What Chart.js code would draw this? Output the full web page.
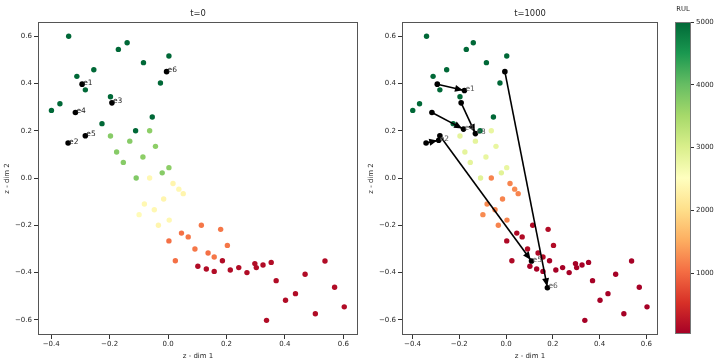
<!DOCTYPE html>
<html>
<head>
<meta charset="utf-8">
<script src="https://cdn.jsdelivr.net/npm/chart.js@4/dist/chart.umd.min.js"></script>
<style>
html, body { margin: 0; padding: 0; background: #fff; }
#wrap { position: relative; width: 720px; height: 364px; overflow: hidden; }
#wrap canvas { position: absolute; top: 0; }
</style>
</head>
<body>
<div id="wrap">
  <canvas id="leftChart" width="362" height="364" style="left:0"></canvas>
  <canvas id="rightChart" width="300" height="364" style="left:362px"></canvas>
  <canvas id="cbar" width="58" height="364" style="left:662px"></canvas>
</div>
<script>
// latent points (same positions in both panels)
const ptX = [-0.340, -0.170, -0.140, -0.084, 0.003, -0.254, -0.312, -0.283, -0.026, -0.399,
             -0.370, -0.197, -0.054, -0.226, -0.111,
             -0.197, -0.063, -0.131, -0.043, -0.176, -0.086, -0.153, 0.003, -0.020, -0.109,
             -0.063, 0.017, 0.037, 0.052, -0.081, -0.015, -0.099, -0.047, -0.033, 0.004,
             0.114, 0.180, 0.046, 0.069, 0.003, 0.203, 0.092, 0.137, 0.158, 0.025,
             0.186, 0.102, 0.131, 0.158, 0.213, 0.242, 0.270, 0.297, 0.302, 0.325,
             0.353, 0.370, 0.402, 0.436, 0.469, 0.504, 0.537, 0.570, 0.603, 0.337];
const ptY = [0.600, 0.544, 0.572, 0.488, 0.516, 0.458, 0.430, 0.373, 0.402, 0.286,
             0.314, 0.344, 0.258, 0.230, 0.200,
             0.178, 0.200, 0.156, 0.134, 0.110, 0.089, 0.066, 0.044, 0.022, 0.000,
             0.000, -0.023, -0.047, -0.066, -0.110, -0.089, -0.155, -0.134, -0.200, -0.178,
             -0.200, -0.217, -0.233, -0.249, -0.266, -0.285, -0.300, -0.317, -0.334, -0.350,
             -0.350, -0.373, -0.385, -0.395, -0.389, -0.379, -0.400, -0.362, -0.379, -0.368,
             -0.357, -0.434, -0.517, -0.489, -0.407, -0.574, -0.351, -0.462, -0.545, -0.602];
// RUL colour of each point at t=0 and at t=1000
const rulT0 = [5000, 5000, 5000, 5000, 5000, 5000, 5000, 5000, 5000, 5000,
               5000, 5000, 5000, 5000, 5000,
               3750, 3700, 3750, 3700, 3750, 3700, 3750, 3700, 3750, 3800,
               2400, 2350, 2400, 2350, 2400, 2350, 2450, 2400, 2350, 2400,
               1100, 1100, 1050, 1100, 1050, 1100, 1100, 1050, 1100, 1050,
               150, 150, 150, 150, 150, 150, 150, 150, 150, 150,
               150, 150, 150, 150, 150, 150, 150, 150, 150, 150];
const rulT1000 = [5000, 5000, 5000, 5000, 5000, 5000, 5000, 5000, 5000, 5000,
                  5000, 5000, 5000, 5000, 5000,
                  2850, 2800, 2850, 2800, 2850, 2800, 2850, 2800, 2900, 2900,
                  1200, 1200, 1250, 1200, 1250, 1200, 1250, 1200, 1200, 1200,
                  150, 150, 120, 150, 120, 150, 150, 120, 150, 120,
                  40, 40, 40, 40, 40, 40, 40, 40, 40, 40,
                  40, 40, 40, 40, 40, 40, 40, 40, 40, 40];

// tracked engines
const engNames = ['e1', 'e2', 'e3', 'e4', 'e5', 'e6'];
const engX0 = [-0.294, -0.342, -0.192, -0.317, -0.283, -0.005];
const engY0 = [0.397, 0.148, 0.318, 0.277, 0.179, 0.450];
const engX1 = [-0.178, -0.288, -0.131, -0.182, 0.109, 0.177];
const engY1 = [0.370, 0.160, 0.188, 0.207, -0.351, -0.464];

const xTicks = [-0.4, -0.2, 0.0, 0.2, 0.4, 0.6];
const yTicks = [-0.6, -0.4, -0.2, 0.0, 0.2, 0.4, 0.6];
const rulTicks = [1000, 2000, 3000, 4000, 5000];
const RUL_MIN = 30, RUL_MAX = 5000;

const FONT = 'DejaVu Sans';
const TXT = '#262626';
const RDYLGN = ['#a50026', '#d73027', '#f46d43', '#fdae61', '#fee08b', '#ffffbf',
                '#d9ef8b', '#a6d96a', '#66bd63', '#1a9850', '#006837'];

function hexRgb(h) {
    return [parseInt(h.substr(1, 2), 16), parseInt(h.substr(3, 2), 16), parseInt(h.substr(5, 2), 16)];
}
function rulColor(v) {
    let t = (v - RUL_MIN) / (RUL_MAX - RUL_MIN);
    t = Math.max(0, Math.min(1, t)) * 10;
    let i = Math.min(9, Math.floor(t));
    let f = t - i;
    let a = hexRgb(RDYLGN[i]), b = hexRgb(RDYLGN[i + 1]);
    let c = a.map((va, k) => Math.round(va + (b[k] - va) * f));
    return 'rgb(' + c.join(',') + ')';
}
function fmt(v) {
    if (Math.abs(v) < 1e-9) v = 0;
    return v.toFixed(1).replace('-', '\u2212');
}

function makeScales(yWidth, yTitlePad) {
    return {
        x: {
            type: 'linear', min: -0.445, max: 0.65,
            afterBuildTicks: s => { s.ticks = xTicks.map(v => ({ value: v })); },
            afterFit: s => { s.height = 29; },
            grid: { drawOnChartArea: false, drawTicks: true, tickLength: 4, color: '#333' },
            border: { display: false },
            ticks: { autoSkip: false, maxRotation: 0, padding: 1, color: TXT,
                     font: { family: FONT, size: 7 }, callback: fmt },
            title: { display: true, text: 'z - dim 1', color: TXT,
                     font: { family: FONT, size: 7 }, padding: { top: 0, bottom: 4 } }
        },
        y: {
            type: 'linear', min: -0.664, max: 0.66,
            afterBuildTicks: s => { s.ticks = yTicks.map(v => ({ value: v })); },
            afterFit: s => { s.width = yWidth; },
            grid: { drawOnChartArea: false, drawTicks: true, tickLength: 4, color: '#333' },
            border: { display: false },
            ticks: { autoSkip: false, padding: 2, color: TXT,
                     font: { family: FONT, size: 7 }, callback: fmt },
            title: { display: true, text: 'z - dim 2', color: TXT,
                     font: { family: FONT, size: 7 }, padding: { top: yTitlePad, bottom: 0 } }
        }
    };
}

// frame + panel title
const framePlugin = {
    id: 'frame',
    afterDraw(chart, args, opts) {
        const a = chart.chartArea, ctx = chart.ctx;
        ctx.save();
        ctx.strokeStyle = '#555';
        ctx.lineWidth = 1;
        ctx.strokeRect(Math.round(a.left) + 0.5, Math.round(a.top) + 0.5,
                       Math.round(a.right - a.left) - 1, Math.round(a.bottom - a.top) - 1);
        if (opts.title) {
            ctx.fillStyle = TXT;
            ctx.font = '8.4px "' + FONT + '"';
            ctx.textAlign = 'center';
            ctx.textBaseline = 'middle';
            ctx.fillText(opts.title, (a.left + a.right) / 2, opts.titleY || 14);
        }
        ctx.restore();
    }
};

// engine labels + arrow heads
const engPlugin = {
    id: 'eng',
    afterDatasetsDraw(chart, args, opts) {
        const ctx = chart.ctx, xs = chart.scales.x, ys = chart.scales.y;
        ctx.save();
        if (opts.arrows) {
            ctx.fillStyle = '#000';
            for (let i = 0; i < engNames.length; i++) {
                const x0 = xs.getPixelForValue(engX0[i]), y0 = ys.getPixelForValue(engY0[i]);
                const x1 = xs.getPixelForValue(engX1[i]), y1 = ys.getPixelForValue(engY1[i]);
                const ang = Math.atan2(y1 - y0, x1 - x0);
                const tipX = x1 - Math.cos(ang) * 1.5, tipY = y1 - Math.sin(ang) * 1.5;
                const L = 8, W = 3.5;
                ctx.beginPath();
                ctx.moveTo(tipX, tipY);
                ctx.lineTo(tipX - L * Math.cos(ang) - W * Math.sin(ang), tipY - L * Math.sin(ang) + W * Math.cos(ang));
                ctx.lineTo(tipX - L * Math.cos(ang) + W * Math.sin(ang), tipY - L * Math.sin(ang) - W * Math.cos(ang));
                ctx.closePath();
                ctx.fill();
            }
        }
        ctx.fillStyle = opts.color;
        ctx.font = '7.5px "' + FONT + '"';
        ctx.textAlign = 'left';
        ctx.textBaseline = 'alphabetic';
        const ex = opts.arrows ? engX1 : engX0, ey = opts.arrows ? engY1 : engY0;
        for (let i = 0; i < engNames.length; i++) {
            ctx.fillText(engNames[i], xs.getPixelForValue(ex[i]) + 1, ys.getPixelForValue(ey[i]) + 0.5);
        }
        ctx.restore();
    }
};

function pointData(xa, ya) {
    return xa.map((x, i) => ({ x: x, y: ya[i] }));
}

function panel(id, title, rul, withArrows, yWidth, yTitlePad, padRight) {
    const datasets = [{
        data: pointData(ptX, ptY),
        pointBackgroundColor: rul.map(rulColor),
        pointBorderWidth: 0,
        pointRadius: 2.7,
        order: 3
    }];
    if (withArrows) {
        for (let i = 0; i < engNames.length; i++) {
            datasets.push({
                data: [{ x: engX0[i], y: engY0[i] }, { x: engX1[i], y: engY1[i] }],
                showLine: true,
                borderColor: '#000',
                borderWidth: 1.6,
                pointRadius: 0,
                order: 2
            });
        }
        datasets.push({
            data: pointData(engX0, engY0).concat(pointData(engX1, engY1)),
            pointBackgroundColor: '#000', pointBorderWidth: 0, pointRadius: 2.8, order: 1
        });
    } else {
        datasets.push({
            data: pointData(engX0, engY0),
            pointBackgroundColor: '#000', pointBorderWidth: 0, pointRadius: 2.8, order: 1
        });
    }
    return new Chart(document.getElementById(id), {
        type: 'scatter',
        data: { datasets: datasets },
        options: {
            responsive: false,
            animation: false,
            layout: { padding: { top: 22, right: padRight, left: 0, bottom: 0 } },
            plugins: {
                legend: { display: false },
                tooltip: { enabled: false },
                frame: { title: title },
                eng: { arrows: withArrows, color: withArrows ? '#555' : '#222' }
            },
            scales: makeScales(yWidth, yTitlePad)
        },
        plugins: [framePlugin, engPlugin]
    });
}

panel('leftChart', 't=0', rulT0, false, 38, 3, 4);
panel('rightChart', 't=1000', rulT1000, true, 40, 5, 3);

// colour bar
const gradPlugin = {
    id: 'grad',
    beforeDatasetsDraw(chart) {
        const a = chart.chartArea, ctx = chart.ctx;
        const g = ctx.createLinearGradient(0, a.bottom, 0, a.top);
        RDYLGN.forEach((c, i) => g.addColorStop(i / 10, c));
        ctx.save();
        ctx.fillStyle = g;
        ctx.fillRect(a.left, a.top, a.right - a.left, a.bottom - a.top);
        ctx.strokeStyle = '#777';
        ctx.lineWidth = 1;
        ctx.strokeRect(Math.round(a.left) + 0.5, Math.round(a.top) + 0.5,
                       Math.round(a.right - a.left) - 1, Math.round(a.bottom - a.top) - 1);
        ctx.fillStyle = TXT;
        ctx.font = '6.8px "' + FONT + '"';
        ctx.textAlign = 'center';
        ctx.textBaseline = 'middle';
        ctx.fillText('RUL', (a.left + a.right) / 2, 9);
        ctx.restore();
    }
};

new Chart(document.getElementById('cbar'), {
    type: 'scatter',
    data: { datasets: [{ data: [] }] },
    options: {
        responsive: false,
        animation: false,
        layout: { padding: { top: 22, left: 13, right: 0, bottom: 30 } },
        plugins: { legend: { display: false }, tooltip: { enabled: false } },
        scales: {
            x: { display: false, min: 0, max: 1 },
            y: {
                position: 'right', min: RUL_MIN, max: RUL_MAX,
                afterBuildTicks: s => { s.ticks = rulTicks.map(v => ({ value: v })); },
                afterFit: s => { s.width = 29; },
                grid: { drawOnChartArea: false, drawTicks: true, tickLength: 3, color: '#333' },
                border: { display: false },
                ticks: { autoSkip: false, padding: 2, color: TXT, font: { family: FONT, size: 7 },
                         callback: v => String(v) }
            }
        }
    },
    plugins: [gradPlugin]
});
</script>
</body>
</html>
